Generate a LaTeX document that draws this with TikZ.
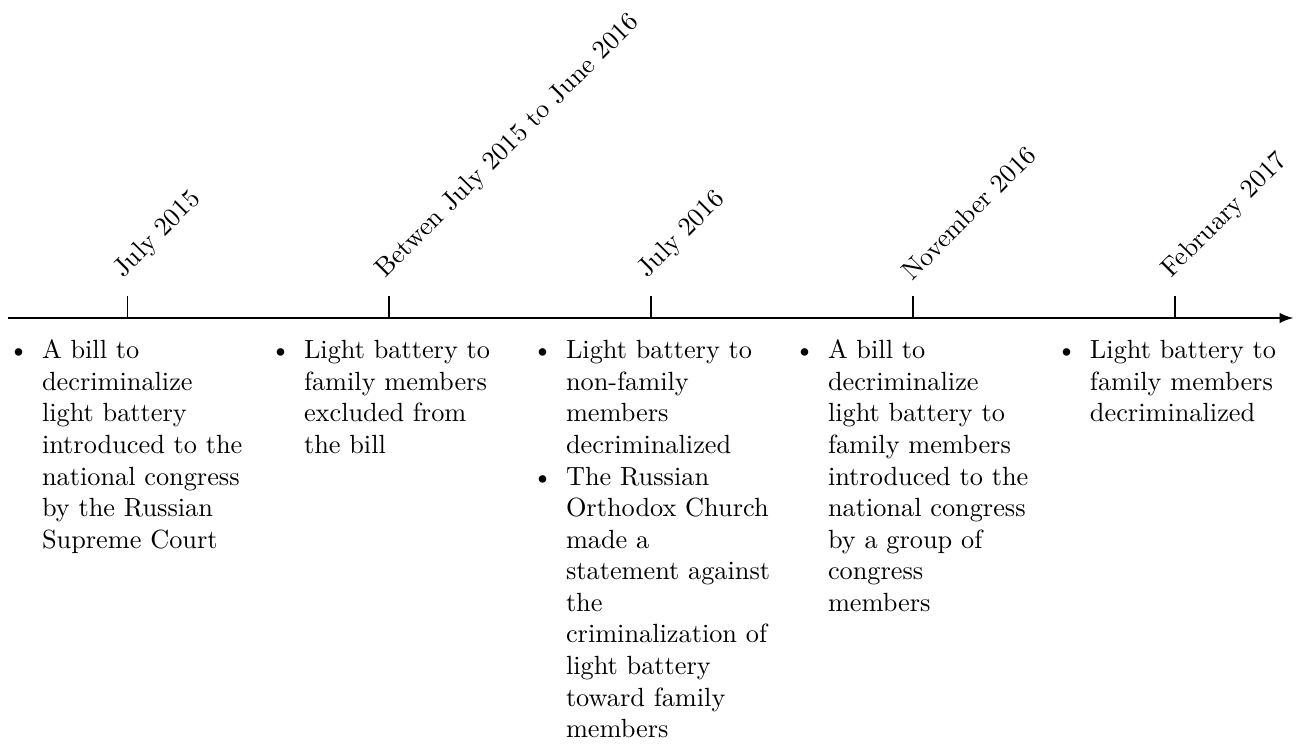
\documentclass[tikz,border=0pt]{standalone}
\usepackage{enumitem}
\setlist[itemize]{nosep, leftmargin=13.5pt, labelsep=5pt}
\begin{document}
\begin{tikzpicture}[
  date/.style={rotate=45, anchor=south west},
  events/.style={anchor=north, text width=3.22cm, align=left}]
\def\gap{3.5}
\useasboundingbox (-1.697,-5.718) rectangle (15.630,4.248);
% time axis
\coordinate (start) at (-1.59,0);
\coordinate (end) at (15.58,0);
\draw[thick, -latex] (start) -- (end);
% ticks, dates and what happened
\foreach \i/\when/\what in {
  0/July 2015/{\item A bill to\newline decriminalize\newline light battery\newline introduced to the\newline national congress\newline by the Russian\newline Supreme Court},
  1/Betwen July 2015 to June 2016/{\item Light battery to\newline family members\newline excluded from\newline the bill},
  2/July 2016/{\item Light battery to\newline non-family\newline members\newline decriminalized
    \item The Russian\newline Orthodox Church\newline made a\newline statement against\newline the\newline criminalization of\newline light battery\newline toward family\newline members},
  3/November 2016/{\item A bill to\newline decriminalize\newline light battery to\newline family members\newline introduced to the\newline national congress\newline by a group of\newline congress\newline members},
  4/February 2017/{\item Light battery to\newline family members\newline decriminalized}
} {
  \coordinate (t\i) at (\i*\gap,0);
  \draw (t\i) -- ++(0,0.3) node[date] (d\i) {\when};
  \node[events] (e\i) at (t\i) {\begin{itemize}\what\end{itemize}};
}
\end{tikzpicture}
\end{document}
